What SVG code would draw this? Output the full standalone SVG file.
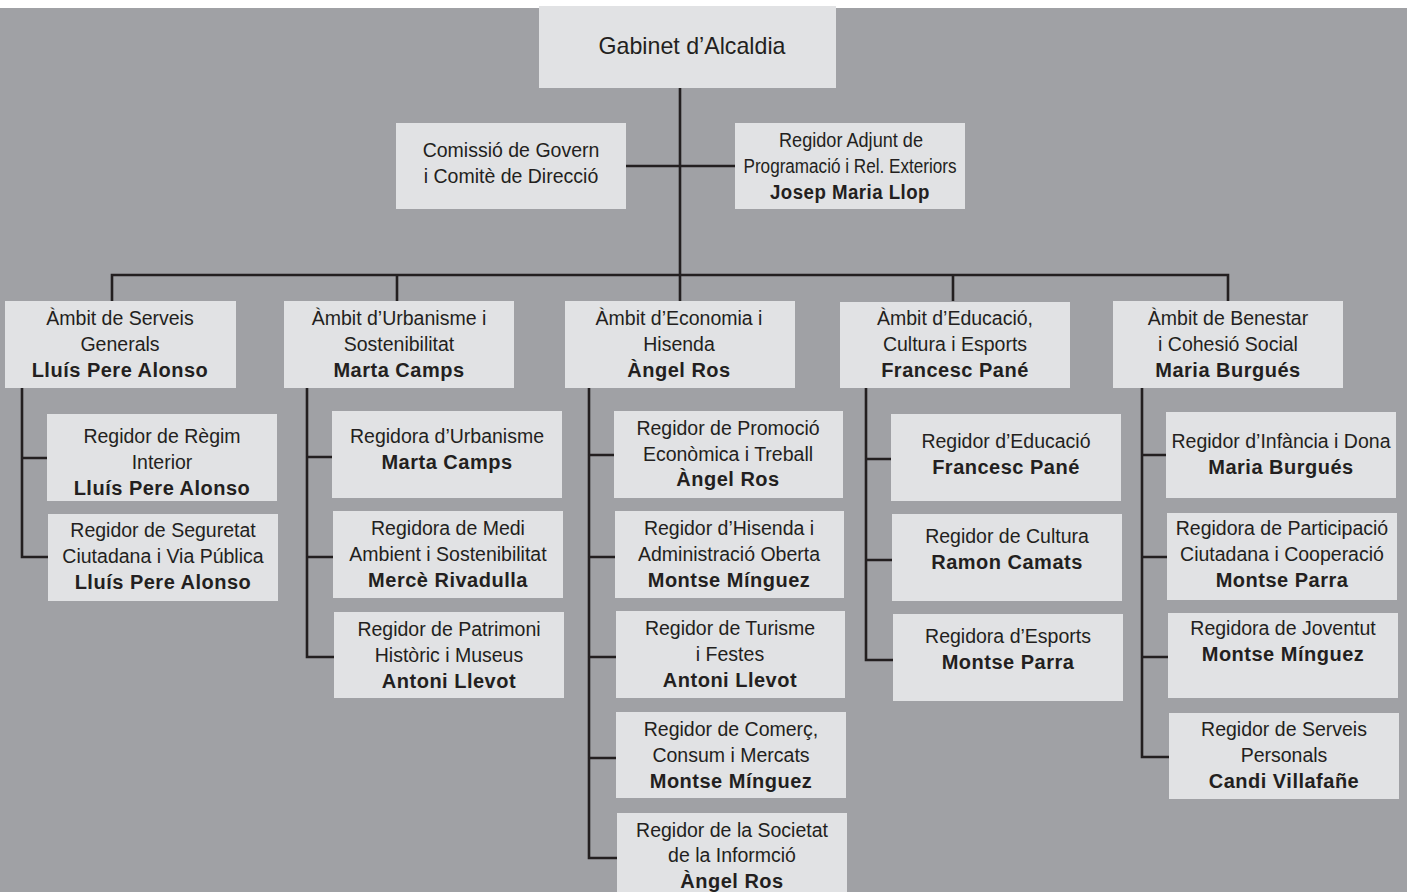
<svg xmlns="http://www.w3.org/2000/svg" width="1407" height="892" viewBox="0 0 1407 892">
<style>
.bg{fill:#a0a1a5}
.box{fill:#e1e2e4}
.c{fill:none;stroke:#231f20;stroke-width:2.6}
text{font-family:"Liberation Sans",Arial,sans-serif;fill:#231f20;text-anchor:middle;dominant-baseline:central}
.r{font-size:19.5px}
.b{font-size:20px;font-weight:bold;letter-spacing:0.5px}
.t{font-size:23.2px}
</style>
<rect x="0" y="0" width="1407" height="892" fill="#ffffff"/>
<rect class="bg" x="0" y="8" width="1407" height="884"/>
<g id="connectors">
<path class="c" d="M680 88V301M626 166H735M112 301V275H1228V301M397 275V301M953 275V301"/>
<path class="c" d="M22 388V557H48M22 458H47"/>
<path class="c" d="M307 388V657H334M307 457H332M307 557H333"/>
<path class="c" d="M589 388V858H617M589 455H614M589 557H615M589 657H616M589 758H616"/>
<path class="c" d="M866 388V660H893M866 459H891M866 560H892"/>
<path class="c" d="M1142 388V757H1169M1142 455H1166M1142 557H1167M1142 657H1168"/>
</g>
<g id="gabinet"><rect class="box" x="539" y="6" width="297" height="82"/><text class="t" x="692" y="46">Gabinet d’Alcaldia</text></g>
<g id="comissio"><rect class="box" x="396" y="123" width="230" height="86"/><text class="r" x="511" y="150">Comissió de Govern</text><text class="r" x="511" y="176">i Comitè de Direcció</text></g>
<g id="adjunt"><rect class="box" x="735" y="123" width="230" height="86"/><text class="r" x="851" y="140" textLength="144" lengthAdjust="spacingAndGlyphs">Regidor Adjunt de</text><text class="r" x="850" y="166" textLength="213" lengthAdjust="spacingAndGlyphs">Programació i Rel. Exteriors</text><text class="b" x="850" y="192" textLength="160" lengthAdjust="spacingAndGlyphs">Josep Maria Llop</text></g>

<g id="serveis"><rect class="box" x="5" y="301" width="231" height="87"/><text class="r" x="120" y="318">Àmbit de Serveis</text><text class="r" x="120" y="344">Generals</text><text class="b" x="120" y="370">Lluís Pere Alonso</text></g>
<g id="regim"><rect class="box" x="47" y="414" width="230" height="87"/><text class="r" x="162" y="436">Regidor de Règim</text><text class="r" x="162" y="462">Interior</text><text class="b" x="162" y="488">Lluís Pere Alonso</text></g>
<g id="seguretat"><rect class="box" x="48" y="514" width="230" height="87"/><text class="r" x="163" y="530">Regidor de Seguretat</text><text class="r" x="163" y="556">Ciutadana i Via Pública</text><text class="b" x="163" y="582">Lluís Pere Alonso</text></g>

<g id="urbanisme"><rect class="box" x="284" y="301" width="230" height="87"/><text class="r" x="399" y="318">Àmbit d’Urbanisme i</text><text class="r" x="399" y="344">Sostenibilitat</text><text class="b" x="399" y="370">Marta Camps</text></g>
<g id="reg-urbanisme"><rect class="box" x="332" y="411" width="230" height="87"/><text class="r" x="447" y="436">Regidora d’Urbanisme</text><text class="b" x="447" y="462">Marta Camps</text></g>
<g id="medi"><rect class="box" x="333" y="511" width="230" height="87"/><text class="r" x="448" y="528">Regidora de Medi</text><text class="r" x="448" y="554">Ambient i Sostenibilitat</text><text class="b" x="448" y="580">Mercè Rivadulla</text></g>
<g id="patrimoni"><rect class="box" x="334" y="612" width="230" height="86"/><text class="r" x="449" y="629">Regidor de Patrimoni</text><text class="r" x="449" y="655">Històric i Museus</text><text class="b" x="449" y="681">Antoni Llevot</text></g>

<g id="economia"><rect class="box" x="565" y="301" width="230" height="87"/><text class="r" x="679" y="318">Àmbit d’Economia i</text><text class="r" x="679" y="344">Hisenda</text><text class="b" x="679" y="370">Àngel Ros</text></g>
<g id="promocio"><rect class="box" x="614" y="411" width="229" height="87"/><text class="r" x="728" y="428">Regidor de Promoció</text><text class="r" x="728" y="454">Econòmica i Treball</text><text class="b" x="728" y="479">Àngel Ros</text></g>
<g id="hisenda"><rect class="box" x="615" y="511" width="229" height="87"/><text class="r" x="729" y="528">Regidor d’Hisenda i</text><text class="r" x="729" y="554">Administració Oberta</text><text class="b" x="729" y="580">Montse Mínguez</text></g>
<g id="turisme"><rect class="box" x="616" y="611" width="229" height="87"/><text class="r" x="730" y="628">Regidor de Turisme</text><text class="r" x="730" y="654">i Festes</text><text class="b" x="730" y="680">Antoni Llevot</text></g>
<g id="comerc"><rect class="box" x="616" y="712" width="230" height="86"/><text class="r" x="731" y="729">Regidor de Comerç,</text><text class="r" x="731" y="755">Consum i Mercats</text><text class="b" x="731" y="781">Montse Mínguez</text></g>
<g id="societat"><rect class="box" x="617" y="813" width="230" height="90"/><text class="r" x="732" y="830">Regidor de la Societat</text><text class="r" x="732" y="855">de la Informció</text><text class="b" x="732" y="881">Àngel Ros</text></g>

<g id="educacio"><rect class="box" x="840" y="302" width="230" height="86"/><text class="r" x="955" y="318">Àmbit d’Educació,</text><text class="r" x="955" y="344">Cultura i Esports</text><text class="b" x="955" y="370">Francesc Pané</text></g>
<g id="reg-educacio"><rect class="box" x="891" y="414" width="230" height="87"/><text class="r" x="1006" y="441">Regidor d’Educació</text><text class="b" x="1006" y="467">Francesc Pané</text></g>
<g id="cultura"><rect class="box" x="892" y="514" width="230" height="87"/><text class="r" x="1007" y="536">Regidor de Cultura</text><text class="b" x="1007" y="562">Ramon Camats</text></g>
<g id="esports"><rect class="box" x="893" y="614" width="230" height="87"/><text class="r" x="1008" y="636">Regidora d’Esports</text><text class="b" x="1008" y="662">Montse Parra</text></g>

<g id="benestar"><rect class="box" x="1113" y="301" width="230" height="87"/><text class="r" x="1228" y="318">Àmbit de Benestar</text><text class="r" x="1228" y="344">i Cohesió Social</text><text class="b" x="1228" y="370">Maria Burgués</text></g>
<g id="infancia"><rect class="box" x="1166" y="412" width="230" height="86"/><text class="r" x="1281" y="441">Regidor d’Infància i Dona</text><text class="b" x="1281" y="467">Maria Burgués</text></g>
<g id="participacio"><rect class="box" x="1167" y="513" width="230" height="87"/><text class="r" x="1282" y="528">Regidora de Participació</text><text class="r" x="1282" y="554">Ciutadana i Cooperació</text><text class="b" x="1282" y="580">Montse Parra</text></g>
<g id="joventut"><rect class="box" x="1168" y="613" width="230" height="85"/><text class="r" x="1283" y="628">Regidora de Joventut</text><text class="b" x="1283" y="654">Montse Mínguez</text></g>
<g id="personals"><rect class="box" x="1169" y="713" width="230" height="86"/><text class="r" x="1284" y="729">Regidor de Serveis</text><text class="r" x="1284" y="755">Personals</text><text class="b" x="1284" y="781">Candi Villafañe</text></g>
</svg>
